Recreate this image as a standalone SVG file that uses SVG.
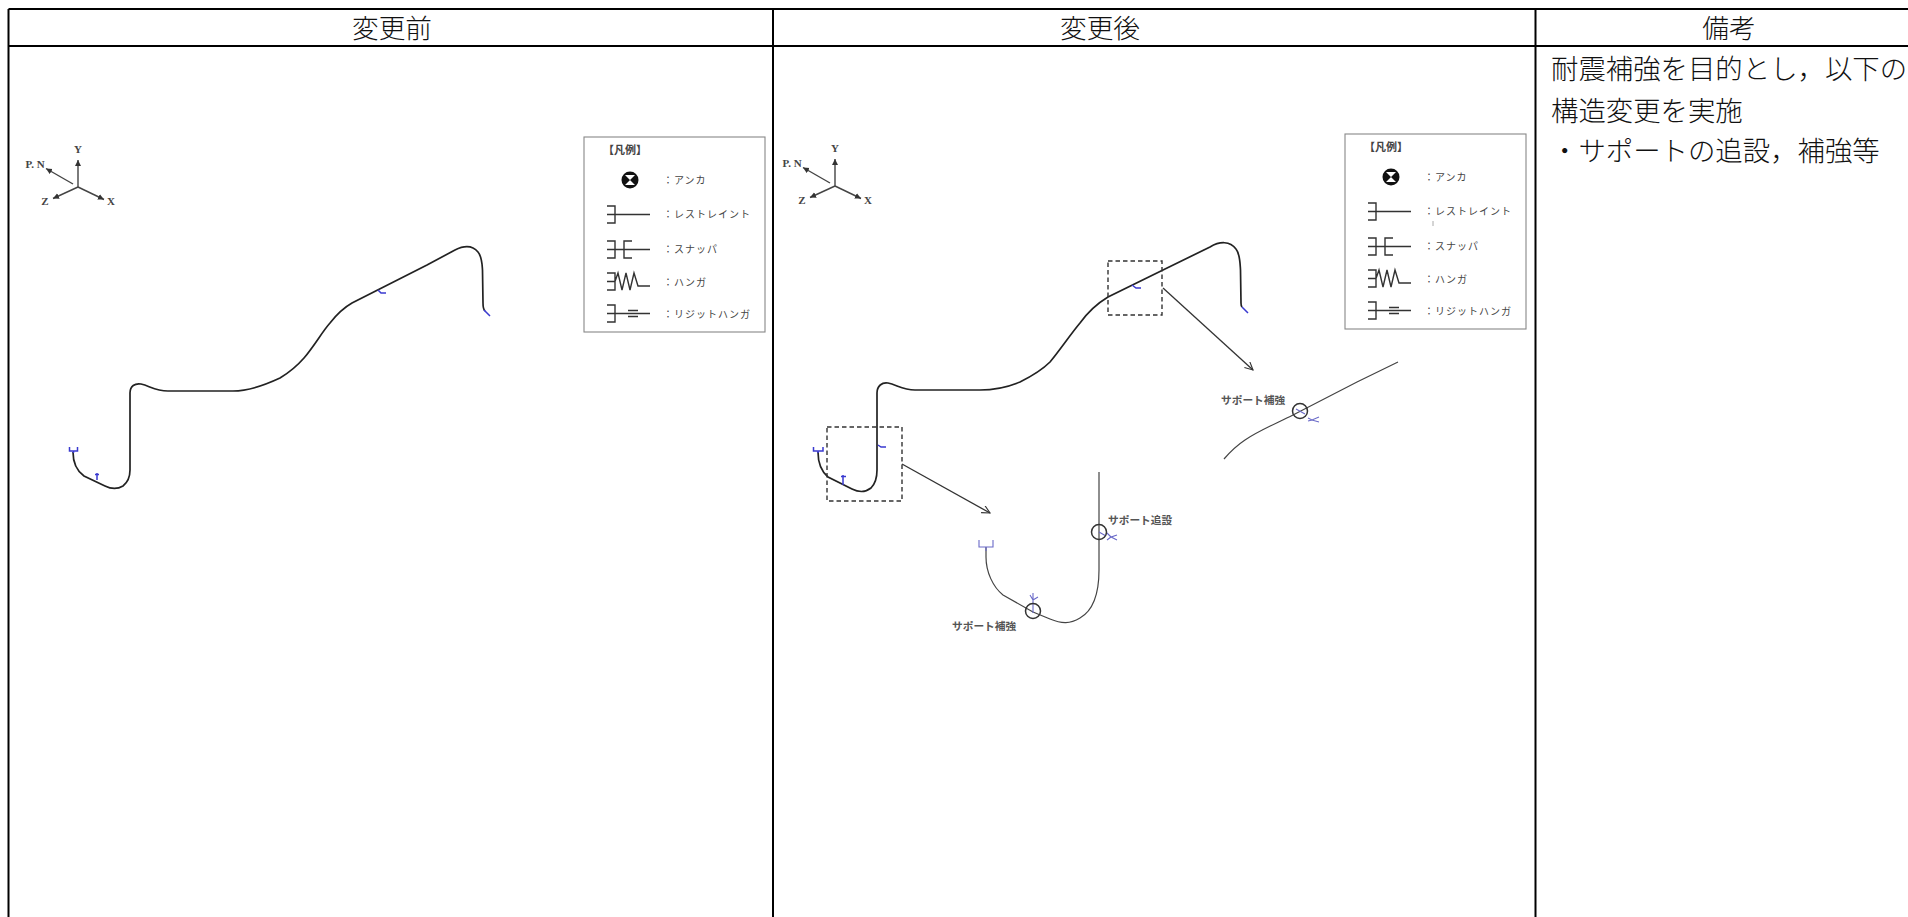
<svg xmlns="http://www.w3.org/2000/svg" width="1908" height="917" viewBox="0 0 1908 917">
<style>
text{font-family:"Noto Sans CJK JP","Liberation Serif",sans-serif}
.tb{stroke:#000;stroke-width:2;fill:none}
.hd{font-size:26.7px;fill:#111;text-anchor:middle;font-weight:300}
.bd{font-size:27.4px;fill:#111;font-weight:300}
.pipe{stroke:#222;stroke-width:1.7;fill:none}
.thin{stroke:#444;stroke-width:1.2;fill:none}
.bl{stroke:#3a3ad0;stroke-width:1.5;fill:none}
.bl2{stroke:#6a6ac8;stroke-width:1.1;fill:none}
.dash{stroke:#333;stroke-width:1.4;stroke-dasharray:4.5 3;fill:none}
.arr{stroke:#333;stroke-width:1.3;fill:none;marker-end:url(#open)}
.ax{stroke:#444;stroke-width:1.4;fill:none;marker-end:url(#solid)}
.axt{font-size:11px;fill:#444;font-family:"Liberation Serif",serif;text-anchor:middle;font-weight:700}
.lg{fill:#fff;stroke:#888;stroke-width:1.1}
.lt{font-size:10px;fill:#444}
.sy{stroke:#333;stroke-width:1.4;fill:none}
.lb{font-size:10.7px;fill:#555;font-weight:700}
.cir{stroke:#333;stroke-width:1.5;fill:none}
.tick{stroke:#aaa;stroke-width:1;fill:none}
</style>
<defs>
<marker id="open" markerWidth="10" markerHeight="10" refX="8" refY="4" orient="auto" markerUnits="userSpaceOnUse"><path d="M0 0L8 4L0 8" fill="none" stroke="#333" stroke-width="1.1"/></marker>
<marker id="solid" markerWidth="8" markerHeight="8" refX="6" refY="3" orient="auto" markerUnits="userSpaceOnUse"><path d="M0 0L6 3L0 6Z" fill="#333"/></marker>
<g id="axes">
<path class="ax" d="M78 187V160"/><path class="ax" d="M73 184L46 168.500"/><path class="ax" d="M78 187L53 198.500"/><path class="ax" d="M78 187L104 199.500"/>
<text class="axt" x="78" y="153">Y</text><text class="axt" x="35" y="168">P. N</text><text class="axt" x="45" y="205">Z</text><text class="axt" x="111" y="205">X</text>
</g>
<g id="legend">
<rect class="lg" x="0" y="0" width="181" height="195"/>
<text class="lt" x="19" y="17" style="font-weight:700;font-size:11px">【凡例】</text>
<circle cx="46" cy="43" r="8.500" fill="#111"/><path d="M41 38L51 48H41L51 38Z" fill="#fff"/>
<text class="lt" x="79" y="47" letter-spacing="1">：アンカ</text>
<path class="sy" d="M23 69H31V86H23M23 77.500H66"/>
<text class="lt" x="79" y="81" letter-spacing="1">：レストレイント</text>
<path class="sy" d="M23 104H31V121H23M23 112.500H66M48 104H40V121H48"/>
<text class="lt" x="79" y="116" letter-spacing="1">：スナッパ</text>
<path class="sy" d="M23 136H31V153H23M23 144.500H31L34 136L38 153L42 136L46 153L50 136L54 149H66"/>
<text class="lt" x="79" y="149" letter-spacing="1">：ハンガ</text>
<path class="sy" d="M23 168H31V185H23M23 176.500H66M44 173.500H54M44 179.500H54"/>
<text class="lt" x="79" y="181" letter-spacing="1">：リジットハンガ</text>
</g>
</defs>

<g id="table">
<path class="tb" d="M8.500 9H1908M8.500 46H1908M8.500 9V917M773 9V917M1535.500 9V917"/>
<text class="hd" x="392" y="38">変更前</text>
<text class="hd" x="1100" y="38">変更後</text>
<text class="hd" x="1729" y="38">備考</text>
</g>

<g id="note">
<text class="bd" x="1551" y="79">耐震補強を目的とし，以下の</text>
<text class="bd" x="1551" y="121">構造変更を実施</text>
<text class="bd" x="1551" y="161">・サポートの追設，補強等</text>
</g>

<g id="axes-before"><use href="#axes"/></g>
<g id="axes-after"><use href="#axes" x="757" y="-1"/></g>
<g id="legend-before"><use href="#legend" x="584" y="137"/></g>
<g id="legend-after"><use href="#legend" x="1345" y="134"/><path class="tick" d="M1433 221V226"/></g>

<g id="pipe-before">
<path class="pipe" d="M73 452C73 463 77 471 84 476L105 486C113 490 118 489 123 486C128 482 130 477 130 470L130 393C130 386 135 383 141 384C150 386 155 391 168 391L233 391C250 391 265 385 280 378C290 372 297 366 304 358C315 345 322 332 330 323C337 314 345 307 352 303L427 265L455 250C465 245 473 246 478 252C482 257 482 263 482.500 270L483 303C483 308 484 310 485 311"/>
<path class="bl" d="M69.500 447V451H77.500V447M73.500 451V453M97 473V480M95 474.500H99M378 290L381 293H386M484 310L490 316"/>
</g>

<g id="pipe-after">
<path class="pipe" d="M818 452C818 463 821 471 828 477L852 489C860 493 866 492 871 488C875 484 877 479 877 470L877 393C877 386 882 382 888 383C897 385 903 390 915 390L980 390C995 390 1008 387 1020 382C1032 376 1042 370 1050 362C1060 350 1070 335 1080 323C1088 312 1098 303 1108 297L1163 270L1210 247C1220 241 1230 241 1236 249C1240 254 1240 262 1240.500 270L1241 303C1241 305 1241 306 1242 307"/>
<path class="bl" d="M813.500 447V451H823V447M818 451V453M843 475V485M841 476.500H846M878 445L881 447H886M1132 285L1136 288H1141M1242 307L1248 313"/>
<rect class="dash" x="827" y="427" width="75" height="74"/>
<rect class="dash" x="1108" y="261" width="54" height="54"/>
</g>

<g id="connectors">
<path class="arr" d="M902 464L990 513"/>
<path class="arr" d="M1163 288L1253 370"/>
</g>

<g id="detail-lower">
<path class="thin" d="M986 547V557C986 572 993 587 1003 595L1033 612L1050 619C1062 624 1070 624 1080 618C1094 610 1099 592 1099 570V472"/>
<path class="bl2" d="M979 540V547H993V540M986 547V551M1033 593V613M1030 595L1033 600L1038 597M1099 532L1106 536M1107 533L1111 537L1117 535M1107 540L1111 537L1117 540"/>
<circle class="cir" cx="1099" cy="532" r="7.500"/>
<circle class="cir" cx="1033" cy="611" r="7.500"/>
<text class="lb" x="1108" y="524">サポート追設</text>
<text class="lb" x="952" y="630">サポート補強</text>
</g>

<g id="detail-upper">
<path class="thin" d="M1224 459C1230 452 1236 446 1245 440C1258 431 1275 424 1293 415L1357 382L1398 362"/>
<path class="bl2" d="M1296 409L1305 414M1308 418L1312 420L1319 417M1308 421L1312 420L1319 422"/>
<circle class="cir" cx="1300" cy="411" r="7.500"/>
<text class="lb" x="1221" y="404">サポート補強</text>
</g>
</svg>
